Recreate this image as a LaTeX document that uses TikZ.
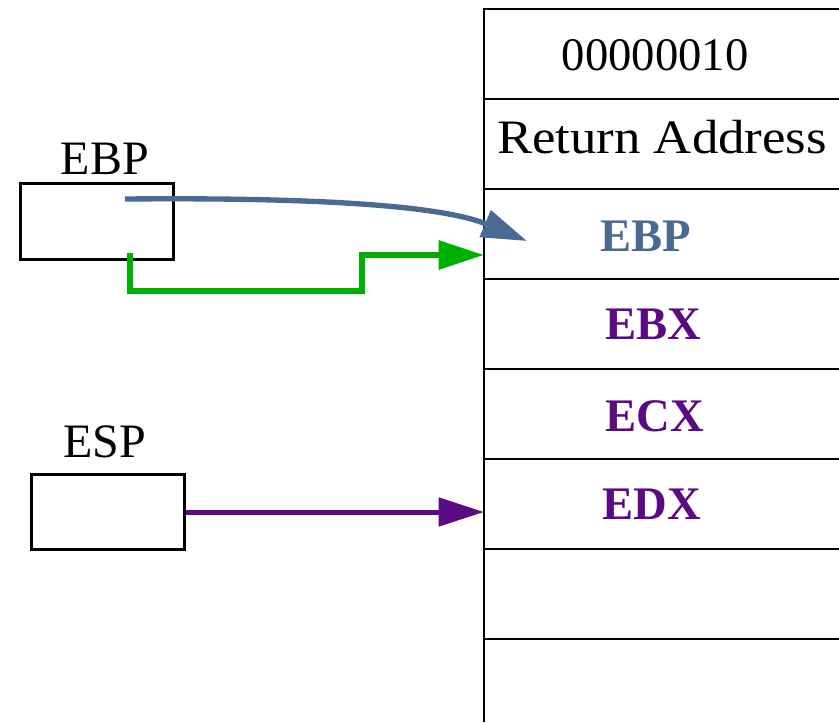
\documentclass[tikz,border=0pt]{standalone}
\usepackage{fontspec}
\setmainfont{Liberation Serif}
\newfontfamily\cellfont[FakeStretch=1.1]{Liberation Serif}
\usetikzlibrary{arrows.meta}
\definecolor{ebpblue}{RGB}{74,106,148}
\definecolor{oldgreen}{RGB}{0,176,0}
\definecolor{regpurple}{RGB}{90,10,130}
\tikzset{
  regbox/.style={draw=black, line width=2.25pt, minimum width=114.75pt, minimum height=57pt, inner sep=0pt},
  celltext/.style={font=\fontsize{36}{40}\selectfont, inner sep=0pt},
  regtext/.style={font=\fontsize{35}{40}\selectfont\bfseries, inner sep=0pt},
  tip/.style={-{Triangle[length=34pt,width=21pt]}}
}

\begin{document}
\begin{tikzpicture}[x=0.75pt,y=-0.75pt]
\useasboundingbox (0,0) rectangle (839,722);
\draw[black, line width=1.5pt] (484,722) -- (484,9) -- (839,9);
\foreach \y in {99,189,...,639}
  \draw[black, line width=1.5pt] (484,\y) -- (839,\y);

\node[celltext, font=\fontsize{35}{40}\selectfont] (cnum) at (655,55) {00000010};
\node[celltext] (cret) at (662,137) {\cellfont Return Address};
\node[regtext, text=ebpblue] (cebp) at (646,236) {EBP};
\node[regtext, text=regpurple] (cebx) at (653,324) {EBX};
\node[regtext, text=regpurple] (cecx) at (655,416) {ECX};
\node[regtext, text=regpurple] (cedx) at (652,504) {EDX};

\node[regbox] (ebpbox) at (96.5,221) {};
\node[regbox, minimum height=56pt] (espbox) at (107.5,512) {};
\node[celltext, anchor=base] (ebplabel) at (105,174) {EBP};
\node[celltext, anchor=base] (esplabel) at (104.5,457) {ESP};

\coordinate (ebpval) at (125,199);
\coordinate (ebpold) at (130,253);
\coordinate (ebptip) at (527,241);
\coordinate (ebpin) at (484,255);
\coordinate (espin) at (484,512);

\draw[oldgreen, line width=4.5pt, tip] (ebpold) |- (362,291) |- (ebpin);
\draw[ebpblue, line width=4pt, tip] (ebpval) .. controls (350,197) and (450,209) .. (ebptip);
\draw[regpurple, line width=3.75pt, tip] (espbox.east) -- (espin);
\end{tikzpicture}
\end{document}
